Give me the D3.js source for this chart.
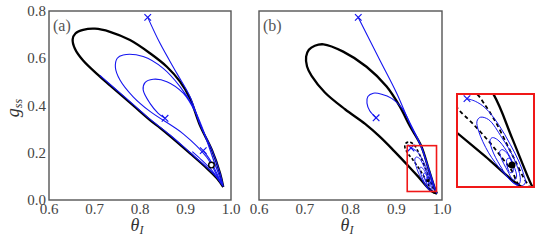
<!DOCTYPE html>
<html>
<head>
<meta charset="utf-8">
<script src="https://cdn.jsdelivr.net/npm/d3@7"></script>
<style>
  body { margin: 0; background: white; }
  svg { display: block; }
  text { font-family: "Liberation Serif", "DejaVu Serif", serif; }
</style>
</head>
<body>
<div id="chart"></div>
<script>
// ticks
var xTicks = [0.6, 0.7, 0.8, 0.9, 1.0],
    yTicks = [0.0, 0.2, 0.4, 0.6, 0.8];

// panel (a): limit cycle and trajectories, [thetaI, gss]
var cycleA = [[0.983,0.055],[0.976,0.113],[0.958,0.212],[0.932,0.315],[0.910,0.430],[0.888,0.501],[0.859,0.564],
  [0.822,0.621],[0.778,0.677],[0.734,0.712],[0.701,0.725],[0.675,0.720],[0.658,0.705],[0.652,0.680],[0.657,0.640],
  [0.675,0.590],[0.712,0.522],[0.734,0.485],[0.785,0.400],[0.822,0.338],[0.844,0.305],[0.866,0.270],[0.910,0.197],
  [0.947,0.134],[0.969,0.092],[0.983,0.055]];
var trajA1 = [[0.817,0.773],[0.844,0.663],[0.881,0.536],[0.910,0.437],[0.932,0.318],[0.958,0.212],[0.976,0.113],[0.983,0.057]];
var trajA2 = [[0.855,0.346],[0.840,0.367],[0.822,0.409],[0.807,0.466],[0.811,0.497],[0.829,0.511],[0.859,0.501],
  [0.895,0.452],[0.922,0.370],[0.945,0.260],[0.965,0.150],[0.977,0.085],[0.978,0.070],[0.970,0.100],[0.947,0.180],
  [0.895,0.280],[0.822,0.375],[0.785,0.437],[0.756,0.508],[0.746,0.560],[0.750,0.600],[0.763,0.614],[0.807,0.607],
  [0.851,0.557],[0.888,0.480],[0.917,0.395],[0.940,0.290],[0.960,0.180],[0.975,0.100],[0.982,0.060],[0.969,0.096],
  [0.947,0.138],[0.910,0.201],[0.866,0.275],[0.822,0.342],[0.785,0.405],[0.734,0.490],[0.712,0.527]];
var trajA3 = [[0.939,0.209],[0.952,0.175],[0.965,0.128],[0.974,0.090],[0.977,0.075],[0.972,0.088],[0.958,0.125],[0.935,0.170],[0.915,0.205]];
var startsA = [[0.817,0.773],[0.855,0.346],[0.939,0.209]];
var unstableA = [[0.957,0.148]];

// panel (b)
var cycleB = [[0.989,0.027],[0.9863,0.038],[0.9697,0.1385],[0.9545,0.2286],[0.930,0.312],[0.908,0.395],[0.879,0.480],
  [0.835,0.564],[0.784,0.628],[0.741,0.659],[0.722,0.653],[0.709,0.636],[0.703,0.607],[0.705,0.565],[0.715,0.525],
  [0.744,0.455],[0.788,0.384],[0.832,0.322],[0.864,0.268],[0.895,0.208],[0.924,0.149],[0.9475,0.100],[0.9766,0.038],[0.989,0.027]];
var dashB = [[0.986,0.028],[0.9753,0.0414],[0.9697,0.0693],[0.9614,0.0969],[0.9503,0.1316],[0.9365,0.1697],[0.9254,0.1974],
  [0.919,0.222],[0.920,0.238],[0.926,0.245],[0.934,0.241],[0.941,0.229],[0.9462,0.2113],[0.9558,0.1732],[0.9656,0.1246],
  [0.9725,0.0901],[0.9794,0.0553],[0.9836,0.038],[0.986,0.028]];
var trajB1 = [[0.817,0.773],[0.864,0.593],[0.901,0.452],[0.930,0.322],[0.9545,0.225],[0.9697,0.138],[0.9863,0.038],[0.989,0.027]];
var trajB2 = [[0.856,0.348],[0.842,0.378],[0.836,0.410],[0.838,0.438],[0.850,0.452],[0.868,0.448],[0.890,0.430],
  [0.912,0.390],[0.932,0.318],[0.955,0.224],[0.970,0.138],[0.986,0.040]];
var spiralB = [[0.9323,0.2203],[0.9392,0.2148],[0.9475,0.2009],[0.9586,0.1661],[0.9683,0.1246],[0.9753,0.0901],[0.9794,0.0622],
  [0.9808,0.045],[0.977,0.037],[0.9725,0.0414],[0.9614,0.0693],[0.9503,0.1073],[0.942,0.1524],[0.9406,0.1732],[0.9434,0.1815],
  [0.9503,0.1765],[0.9614,0.1385],[0.9711,0.0969],[0.9766,0.0553],[0.9755,0.042],[0.970,0.046],[0.960,0.080],[0.953,0.115],
  [0.9515,0.134],[0.9535,0.139],[0.958,0.134],[0.965,0.112],[0.971,0.082],[0.9735,0.056],[0.971,0.050],[0.966,0.070],
  [0.9605,0.098],[0.9595,0.110],[0.9615,0.114],[0.965,0.108],[0.9695,0.088],[0.9705,0.068],[0.968,0.066],[0.9655,0.082],
  [0.9655,0.094],[0.967,0.096],[0.9695,0.090],[0.9697,0.0817]];
var startsB = [[0.817,0.773],[0.856,0.348],[0.9323,0.2203]];
var stableB = [[0.9697,0.0817]];
// zoom window shown in the inset
var zoomX = [0.924, 0.988],
    zoomY = [0.036, 0.230];

var W = 540, H = 245;
var svg = d3.select("#chart").append("svg")
    .attr("width", W)
    .attr("height", H);

function makePanel(id, x0, x1, y0, y1, xDom, yDom) {
    var x = d3.scaleLinear().domain(xDom).range([x0, x1]);
    var y = d3.scaleLinear().domain(yDom).range([y1, y0]);
    svg.append("clipPath").attr("id", id)
        .append("rect")
        .attr("x", x0).attr("y", y0)
        .attr("width", x1 - x0).attr("height", y1 - y0);
    var g = svg.append("g").attr("clip-path", "url(#" + id + ")");
    return { x: x, y: y, g: g };
}

function drawPath(p, data, color, width, dash) {
    var l = d3.line().curve(d3.curveCatmullRom.alpha(0.5))
        .x(function(d) { return p.x(d[0]); })
        .y(function(d) { return p.y(d[1]); });
    p.g.append("path")
        .attr("d", l(data))
        .attr("fill", "none")
        .attr("stroke", color)
        .attr("stroke-width", width)
        .attr("stroke-dasharray", dash || null)
        .attr("stroke-linejoin", "round");
}

function drawCrosses(p, data, s) {
    p.g.selectAll(null).data(data).enter().append("path")
        .attr("d", function(d) {
            var cx = p.x(d[0]), cy = p.y(d[1]);
            return "M" + (cx - s) + "," + (cy - s) + "L" + (cx + s) + "," + (cy + s) +
                   "M" + (cx - s) + "," + (cy + s) + "L" + (cx + s) + "," + (cy - s);
        })
        .attr("stroke", "#1515f0")
        .attr("stroke-width", 1.2);
}

function xAxis(p, yPos) {
    svg.append("g").selectAll("text").data(xTicks).enter().append("text")
        .attr("x", function(d) { return p.x(d); })
        .attr("y", yPos)
        .attr("text-anchor", "middle")
        .style("font-size", "15px")
        .style("fill", "#444")
        .text(function(d) { return d.toFixed(1); });
}

function thetaLabel(cx) {
    var t = svg.append("text")
        .attr("x", cx - 3).attr("y", 231)
        .attr("text-anchor", "middle")
        .style("font-size", "18px")
        .style("font-style", "italic")
        .style("fill", "#333");
    t.append("tspan").text("\u03b8");
    t.append("tspan").attr("dy", 3).style("font-size", "12px").text("I");
}

function frame(x0, x1, y0, y1, color, w) {
    svg.append("rect")
        .attr("x", x0).attr("y", y0)
        .attr("width", x1 - x0).attr("height", y1 - y0)
        .attr("fill", "none")
        .attr("stroke", color)
        .attr("stroke-width", w);
}

//panel a
var pa = makePanel("clipA", 49, 231, 11, 200, [0.6, 1.0], [0.0, 0.8]);
drawPath(pa, cycleA, "black", 2.3);
drawPath(pa, trajA1, "#1515f0", 1.1);
drawPath(pa, trajA2, "#1515f0", 1.1);
drawPath(pa, trajA3, "#1515f0", 1.1);
drawCrosses(pa, startsA, 3.3);
pa.g.selectAll(null).data(unstableA).enter().append("circle")
    .attr("cx", function(d) { return pa.x(d[0]); })
    .attr("cy", function(d) { return pa.y(d[1]); })
    .attr("r", 2.8)
    .attr("fill", "white")
    .attr("stroke", "black")
    .attr("stroke-width", 1.4);
frame(49, 231, 11, 200, "#555", 1.4);

svg.append("g").selectAll("text").data(yTicks).enter().append("text")
    .attr("x", 46)
    .attr("y", function(d) { return pa.y(d) + 5; })
    .attr("text-anchor", "end")
    .style("font-size", "15px")
    .style("fill", "#444")
    .text(function(d) { return d.toFixed(1); });
xAxis(pa, 214);
thetaLabel(140);

var yl = svg.append("text")
    .attr("transform", "translate(19,108) rotate(-90)")
    .attr("text-anchor", "middle")
    .style("font-size", "18px")
    .style("font-style", "italic")
    .style("fill", "#333");
yl.append("tspan").text("g");
yl.append("tspan").attr("dy", 3).style("font-size", "12px").text("ss");

svg.append("text")
    .attr("x", 53).attr("y", 31)
    .style("font-size", "16px")
    .style("fill", "#555")
    .text("(a)");

//panel b
var pb = makePanel("clipB", 259, 442, 11, 200, [0.6, 1.0], [0.0, 0.8]);
drawPath(pb, cycleB, "black", 2.3);
drawPath(pb, dashB, "black", 1.6, "3,2");
drawPath(pb, spiralB, "#1515f0", 0.9);
drawPath(pb, trajB1, "#1515f0", 1.1);
drawPath(pb, trajB2, "#1515f0", 1.1);
drawCrosses(pb, startsB, 3.3);
pb.g.selectAll(null).data(stableB).enter().append("circle")
    .attr("cx", function(d) { return pb.x(d[0]); })
    .attr("cy", function(d) { return pb.y(d[1]); })
    .attr("r", 1.6)
    .attr("fill", "black");
svg.append("rect")
    .attr("x", pb.x(zoomX[0])).attr("y", pb.y(zoomY[1]))
    .attr("width", pb.x(zoomX[1]) - pb.x(zoomX[0]))
    .attr("height", pb.y(zoomY[0]) - pb.y(zoomY[1]))
    .attr("fill", "none")
    .attr("stroke", "#f01818")
    .attr("stroke-width", 1.6);
frame(259, 442, 11, 200, "#555", 1.4);
xAxis(pb, 214);
thetaLabel(350);

svg.append("text")
    .attr("x", 263).attr("y", 31)
    .style("font-size", "16px")
    .style("fill", "#555")
    .text("(b)");

//inset
svg.append("rect").attr("x", 457).attr("y", 94).attr("width", 77).attr("height", 93).attr("fill", "white");
var pi = makePanel("clipI", 457, 534, 94, 187, zoomX, zoomY);
drawPath(pi, cycleB, "black", 2.3);
drawPath(pi, dashB, "black", 1.8, "4,3");
drawPath(pi, spiralB, "#1515f0", 1.0);
drawCrosses(pi, [startsB[2]], 3.3);
pi.g.selectAll(null).data(stableB).enter().append("circle")
    .attr("cx", function(d) { return pi.x(d[0]); })
    .attr("cy", function(d) { return pi.y(d[1]); })
    .attr("r", 3.5)
    .attr("fill", "black");
frame(457, 534, 94, 187, "#f01818", 2);
</script>
</body>
</html>
